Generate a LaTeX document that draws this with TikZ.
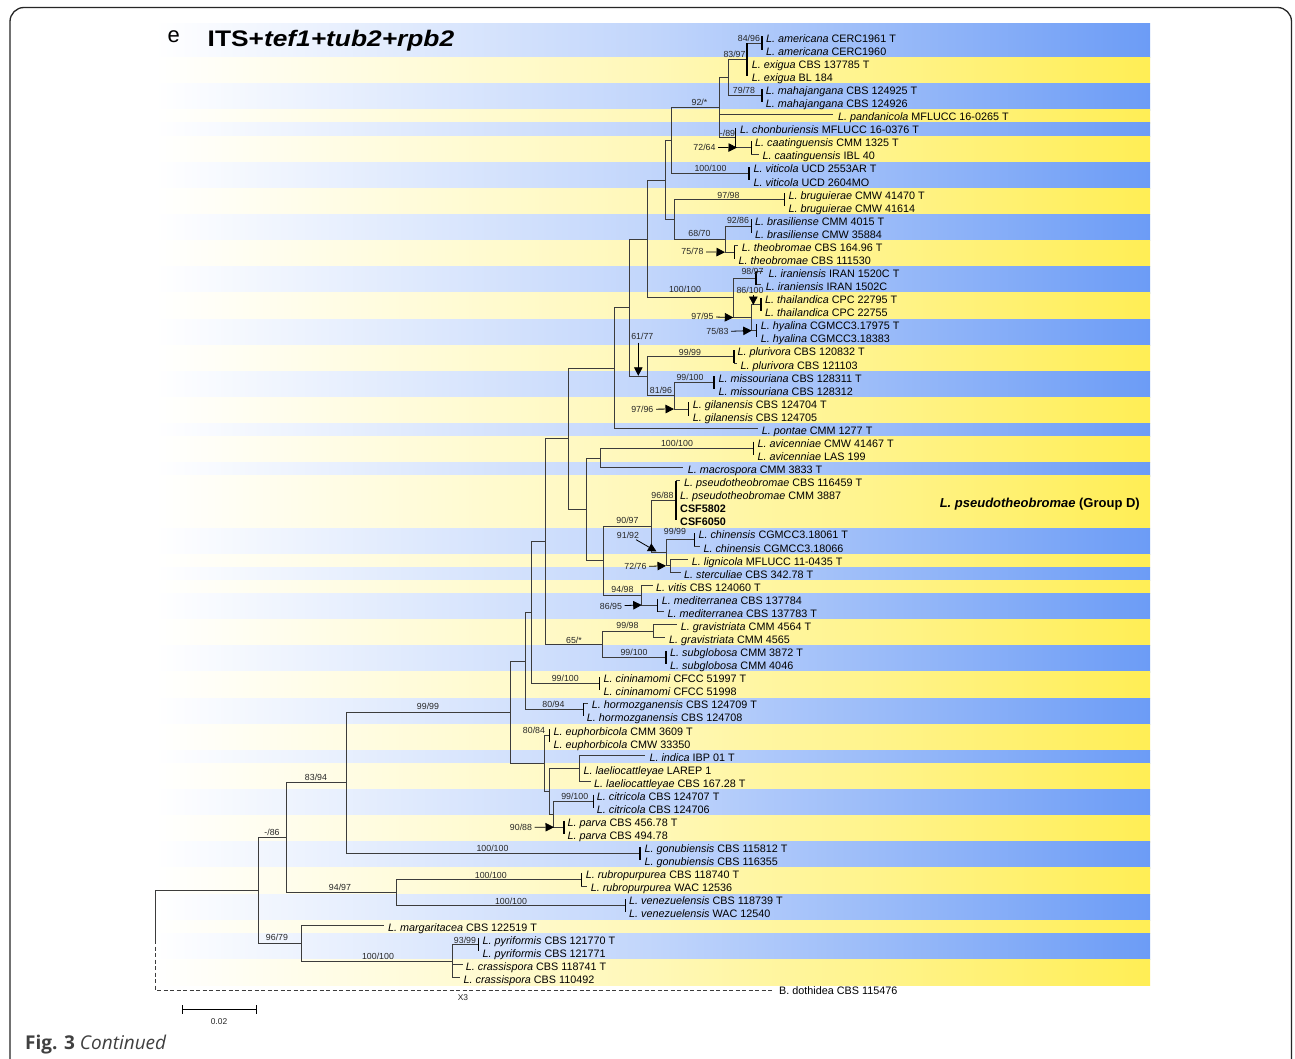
\documentclass[tikz,border=0pt]{standalone}
\usepackage{fontspec}
\setmainfont{Liberation Sans}
\newfontfamily\titlefont[FakeStretch=1.17]{Liberation Sans}
\newfontfamily\capfont{Open Sans}
\usetikzlibrary{arrows.meta}
\definecolor{stripeB}{RGB}{108,156,246}
\definecolor{stripeY}{RGB}{255,238,85}
\definecolor{treeln}{RGB}{60,60,60}
\definecolor{capgray}{RGB}{64,64,64}
\newcommand\slab[4]{\node[supl] (#1) at (#2,#3) {#4};}
\begin{document}
\begin{tikzpicture}[x=1pt,y=-1pt,
  br/.style={draw=treeln, line width=0.9pt},
  bar/.style={draw=black, line width=1.2pt},
  tiplab/.style={anchor=base west, inner sep=0pt, font=\fontsize{10.8}{12}\selectfont},
  supl/.style={inner sep=0pt, font=\fontsize{8.8}{9}\selectfont, text=black!85},
  arr/.style={draw=black, line width=0.8pt, -{Triangle[length=8.5pt,width=8.5pt]}, shorten <=2.5pt},
  bstr/.style={left color=white, right color=stripeB, middle color=stripeB!42!white},
  ystr/.style={left color=white, right color=stripeY, middle color=stripeY!42!white}]
\useasboundingbox (0,0) rectangle (1295,1059);
\fill[white] (0,0) rectangle (1295,1059);
% stripes
\foreach \a/\b/\c in {-0.571/2/bstr, 2/4/ystr, 4/6/bstr, 6/7/ystr, 7/8/bstr, 8/10/ystr, 10/12/bstr, 12/14/ystr, 14/16/bstr, 16/18/ystr, 18/20/bstr, 20/22/ystr, 22/24/bstr, 24/26/ystr, 26/28/bstr, 28/30/ystr, 30/31/bstr, 31/33/ystr, 33/34/bstr, 34/38/ystr, 38/40/bstr, 40/41/ystr, 41/42/bstr, 42/43/ystr, 43/45/bstr, 45/47/ystr, 47/49/bstr, 49/51/ystr, 51/53/bstr, 53/55/ystr, 55/56/bstr, 56/58/ystr, 58/60/bstr, 60/62/ystr, 62/64/bstr, 64/66/ystr, 66/68/bstr, 68/69/ystr, 69/71/bstr, 71/73/ystr}
  {\shade[\c] (155,{31.465+13.07*\a}) rectangle (1150,{31.465+13.07*\b+0.2});}
% frame
\draw[rounded corners=14, line width=1.3pt, color=black!85] (10,1085) -- (10,7.5) -- (1291.5,7.5) -- (1291.5,1085);
% titles
\node[anchor=base west, inner sep=0pt, font=\fontsize{22}{24}\selectfont] (elab) at (167.5,42.7) {e};
\node[anchor=base west, inner sep=0pt, font=\titlefont\fontsize{22.5}{24}\selectfont\bfseries] (title) at (207.5,46.7) {ITS+\textit{tef1+tub2+rpb2}};
\node[anchor=base east, inner sep=0pt, font=\fontsize{13}{14}\selectfont\bfseries] (grp) at (1140,507.5) {\textit{L. pseudotheobromae} (Group D)};
\node[anchor=base west, inner sep=0pt, font=\capfont\fontsize{19}{21}\selectfont, text=capgray] (cap) at (25,1049) {\textbf{Fig. 3} \textit{Continued}};
% internal nodes
\coordinate (nAme) at (762,43.03);
\coordinate (nAE) at (747,59.4);
\coordinate (nAEtop) at (747,43.03);
\coordinate (nMah) at (762,95.3);
\coordinate (nAEM) at (728,77.35);
\coordinate (nCaa) at (751.7,147.6);
\coordinate (nCC) at (735.7,137.8);
\coordinate (n92) at (719,107.6);
\coordinate (nVit) at (749,173.7);
\coordinate (n671) at (671.7,140.65);
\coordinate (nBru) at (784.3,199.9);
\coordinate (nBra) at (751.7,226.0);
\coordinate (nTheo) at (734.3,252.2);
\coordinate (n725) at (725,239.1);
\coordinate (n674) at (674,219.5);
\coordinate (n666) at (665.7,180.1);
\coordinate (nIra) at (756,278.3);
\coordinate (nTha) at (761,304.4);
\coordinate (nHya) at (756.7,330.6);
\coordinate (n97) at (751.7,317.5);
\coordinate (n733) at (733.3,297.9);
\coordinate (n647a) at (647.3,239.0);
\coordinate (nPlu) at (734,356.7);
\coordinate (nMis) at (714,382.9);
\coordinate (nGil) at (688.3,409.0);
\coordinate (n81) at (674,395.9);
\coordinate (n647b) at (647.3,376.3);
\coordinate (n629) at (629.3,307.65);
\coordinate (n614) at (614.3,368.1);
\coordinate (nAvi) at (753.3,448.2);
\coordinate (n600) at (600.7,458.0);
\coordinate (nPse) at (676,500.5);
\coordinate (nChi) at (694.3,539.7);
\coordinate (nLS) at (670,565.8);
\coordinate (n666b) at (666,552.8);
\coordinate (n651) at (651.7,526.6);
\coordinate (nMed) at (657.3,605.0);
\coordinate (n641) at (641.7,595.2);
\coordinate (n603) at (603.3,560.9);
\coordinate (n586) at (586.7,509.45);
\coordinate (n568) at (568.3,438.8);
\coordinate (nGra) at (653.3,631.2);
\coordinate (nSub) at (666,657.3);
\coordinate (n602) at (602.7,644.25);
\coordinate (n545) at (545,541.5);
\coordinate (nCin) at (599.3,683.5);
\coordinate (n531) at (531.7,612.5);
\coordinate (nHor) at (583.3,709.6);
\coordinate (n525) at (525,661.05);
\coordinate (nEup) at (549.3,735.7);
\coordinate (nIL) at (579.3,768.4);
\coordinate (nCit) at (593.3,801.1);
\coordinate (nPar) at (564,827.2);
\coordinate (n553) at (553.3,814.15);
\coordinate (n549) at (549.3,791.3);
\coordinate (n544) at (544,763.5);
\coordinate (n510) at (510.7,712.3);
\coordinate (nGon) at (640,853.4);
\coordinate (n346) at (346,782.85);
\coordinate (nRub) at (581.4,879.5);
\coordinate (nVen) at (625.6,905.7);
\coordinate (n396) at (396.2,892.6);
\coordinate (n286) at (286,837.7);
\coordinate (nPyr) at (478.3,944.9);
\coordinate (n452) at (452.2,961.2);
\coordinate (n301) at (301.5,943.2);
\coordinate (n258) at (258.6,890.45);
\coordinate (root) at (155,890.45);
\coordinate (rootd) at (155,940);
\coordinate (bcorner) at (155,990);
\coordinate (bdo) at (772,990);
% internal edges
\foreach \p/\c in {nAE/nAme, nAEM/nAE, nAEM/nMah, n92/nAEM, n92/nCC, nCC/nCaa, n671/n92, n671/nVit, n666/n671, n674/nBru, n674/n725, n725/nBra, n725/nTheo, n666/n674, n647a/n666, n733/nIra, n733/n97, n97/nTha, n97/nHya, n647a/n733, n629/n647a, n647b/nPlu, n647b/n81, n81/nMis, n81/nGil, n629/n647b, n614/n629, n568/n614, n600/nAvi, n586/n600, n651/nPse, n666b/nChi, n666b/nLS, n651/n666b, n603/n651, n641/nMed, n603/n641, n586/n603, n568/n586, n545/n568, n602/nGra, n602/nSub, n545/n602, n531/n545, n531/nCin, n525/n531, n525/nHor, n549/nIL, n553/nCit, n553/nPar, n549/n553, n544/nEup, n544/n549, n510/n525, n510/n544, n346/n510, n346/nGon, n396/nRub, n396/nVen, n286/n346, n286/n396, n452/nPyr, n301/n452, n258/n286, n258/n301, root/n258}
  {\draw[br] (\p) |- (\c);}
% tips
\foreach \i/\tx/\p/\lx/\sp/\cd in {
0/762/nAme/766/americana/CERC1961 T,
1/762/nAme/766/americana/CERC1960,
2/747/nAE/751.7/exigua/CBS 137785 T,
3/747/nAE/751.7/exigua/BL 184,
4/762/nMah/765.7/mahajangana/CBS 124925 T,
5/762/nMah/765.7/mahajangana/CBS 124926,
6/833/n92/838/pandanicola/MFLUCC 16-0265 T,
7/735.7/nCC/740/chonburiensis/MFLUCC 16-0376 T,
8/751.7/nCaa/755/caatinguensis/CMM 1325 T,
9/759/nCaa/762.3/caatinguensis/IBL 40,
10/749/nVit/753.3/viticola/UCD 2553AR T,
11/749/nVit/753.3/viticola/UCD 2604MO,
12/784.3/nBru/788.3/bruguierae/CMW 41470 T,
13/784.3/nBru/788.3/bruguierae/CMW 41614,
14/751.7/nBra/755/brasiliense/CMM 4015 T,
15/751.7/nBra/755/brasiliense/CMW 35884,
16/738/nTheo/741.7/theobromae/CBS 164.96 T,
17/734.3/nTheo/738.3/theobromae/CBS 111530,
18/763/nIra/768.3/iraniensis/IRAN 1520C T,
19/761/nIra/765.7/iraniensis/IRAN 1502C,
20/761/nTha/765/thailandica/CPC 22795 T,
21/761/nTha/765/thailandica/CPC 22755,
22/756.7/nHya/760.7/hyalina/CGMCC3.17975 T,
23/756.7/nHya/760.7/hyalina/CGMCC3.18383,
24/734/nPlu/737.3/plurivora/CBS 120832 T,
25/737/nPlu/740.5/plurivora/CBS 121103,
26/714/nMis/718.3/missouriana/CBS 128311 T,
27/714/nMis/718.3/missouriana/CBS 128312,
28/688.3/nGil/692.7/gilanensis/CBS 124704 T,
29/688.3/nGil/692.7/gilanensis/CBS 124705,
30/758.3/n614/761.7/pontae/CMM 1277 T,
31/753.3/nAvi/757.3/avicenniae/CMW 41467 T,
32/753.3/nAvi/757.3/avicenniae/LAS 199,
33/683.3/n600/687.7/macrospora/CMM 3833 T,
34/680/nPse/684/pseudotheobromae/CBS 116459 T,
35/676/nPse/680/pseudotheobromae/CMM 3887,
38/694.3/nChi/698.3/chinensis/CGMCC3.18061 T,
39/700/nChi/703.3/chinensis/CGMCC3.18066,
40/688.3/nLS/691.7/lignicola/MFLUCC 11-0435 T,
41/680.5/nLS/684/sterculiae/CBS 342.78 T,
42/652.5/n641/656/vitis/CBS 124060 T,
43/657.3/nMed/661.7/mediterranea/CBS 137784,
44/663.5/nMed/667.3/mediterranea/CBS 137783 T,
45/676.5/nGra/680.7/gravistriata/CMM 4564 T,
46/665/nGra/669/gravistriata/CMM 4565,
47/666/nSub/670/subglobosa/CMM 3872 T,
48/666/nSub/670/subglobosa/CMM 4046,
49/599.3/nCin/603.5/cininamomi/CFCC 51997 T,
50/599.3/nCin/603.5/cininamomi/CFCC 51998,
51/588/nHor/591.7/hormozganensis/CBS 124709 T,
52/583.3/nHor/586.7/hormozganensis/CBS 124708,
53/549.3/nEup/553.3/euphorbicola/CMM 3609 T,
54/549.3/nEup/553.3/euphorbicola/CMW 33350,
55/645/nIL/649.3/indica/IBP 01 T,
56/579.3/nIL/583.3/laeliocattleyae/LAREP 1,
57/590.5/nIL/594/laeliocattleyae/CBS 167.28 T,
58/593.3/nCit/596.7/citricola/CBS 124707 T,
59/593.3/nCit/596.7/citricola/CBS 124706,
60/564/nPar/567.3/parva/CBS 456.78 T,
61/564/nPar/567.3/parva/CBS 494.78,
62/640/nGon/644.5/gonubiensis/CBS 115812 T,
63/640/nGon/644.5/gonubiensis/CBS 116355,
64/581.4/nRub/585.6/rubropurpurea/CBS 118740 T,
65/587/nRub/590.6/rubropurpurea/WAC 12536,
66/625.6/nVen/629/venezuelensis/CBS 118739 T,
67/625.6/nVen/629/venezuelensis/WAC 12540,
68/383.6/n301/387.8/margaritacea/CBS 122519 T,
69/478.3/nPyr/482.5/pyriformis/CBS 121770 T,
70/478.3/nPyr/482.5/pyriformis/CBS 121771,
71/462.5/n452/465.7/crassispora/CBS 118741 T,
72/460/n452/463.5/crassispora/CBS 110492}
{
  \coordinate (tip\i) at (\tx,{36.5+13.07*\i});
  \draw[br] (\p) |- (tip\i);
  \node[tiplab] (lab\i) at (\lx,{42.3+13.07*\i}) {\textit{L. \sp} \cd};
}
\coordinate (tip36) at (676,{36.5+13.07*36});
\coordinate (tip37) at (676,{36.5+13.07*37});
\node[tiplab, font=\fontsize{10.8}{12}\selectfont\bfseries] (lab36) at (680,{42.3+13.07*36}) {CSF5802};
\node[tiplab, font=\fontsize{10.8}{12}\selectfont\bfseries] (lab37) at (680,{42.3+13.07*37}) {CSF6050};
% bars
\foreach \p/\a/\b in {nAme/0/1, nMah/4/5, nCaa/8/9, nVit/10/11, nBru/12/13, nBra/14/15, nTheo/16/17, nIra/18/19, nTha/20/21, nHya/22/23, nPlu/24/25, nMis/26/27, nGil/28/29, nAvi/31/32, nPse/34/37, nChi/38/39, nMed/43/44, nSub/47/48, nCin/49/50, nHor/51/52, nEup/53/54, nCit/58/59, nPar/60/61, nGon/62/63, nRub/64/65, nVen/66/67, nPyr/69/70}
  {\draw[bar] (\p |- tip\a) -- (\p |- tip\b);}
\draw[bar] (nAEtop) -- (nAE |- tip3);
\draw[bar] (tip7) -- (nCC |- nCaa);
% outgroup
\draw[br] (root) -- (rootd);
\draw[draw=treeln, line width=0.8pt, dash pattern=on 4pt off 2.5pt] (rootd) -- (bcorner) -- (bdo);
\node[tiplab] (labB) at (779,994.5) {B. dothidea CBS 115476};
\node[supl, font=\fontsize{8.4}{9}\selectfont] (x3) at (463,997.5) {X3};
% scale bar
\coordinate (sb1) at (182.4,1009.3);
\coordinate (sb2) at (256.5,1009.3);
\draw[draw=black, line width=1pt] (sb1) -- (sb2);
\draw[draw=black, line width=1pt] ([yshift=-4.5pt]sb1) -- ([yshift=4.5pt]sb1);
\draw[draw=black, line width=1pt] ([yshift=-4.5pt]sb2) -- ([yshift=4.5pt]sb2);
\node[supl, font=\fontsize{8.4}{9}\selectfont] (sbl) at (219,1021.5) {0.02};
% support values
\slab{s1}{748.9}{38.3}{84/96}
\slab{s2}{734.5}{54.3}{83/97}
\slab{s3}{744}{90}{79/78}
\slab{s4}{699.5}{102.7}{92/*}
\slab{s5}{727.5}{133}{-/89}
\slab{s6}{704.5}{147.3}{72/64}
\slab{s7}{710.5}{168.3}{100/100}
\slab{s8}{728.5}{195.7}{97/98}
\slab{s9}{738}{220}{92/86}
\slab{s10}{699.5}{233}{68/70}
\slab{s11}{692.5}{251.7}{75/78}
\slab{s12}{752.5}{271.7}{98/97}
\slab{s13}{685}{289.3}{100/100}
\slab{s14}{750}{290.7}{86/100}
\slab{s15}{702.5}{316.7}{97/95}
\slab{s16}{717.5}{331.7}{75/83}
\slab{s17}{642.3}{336.7}{61/77}
\slab{s18}{690}{352.3}{99/99}
\slab{s19}{690}{377.7}{99/100}
\slab{s20}{661}{390.7}{81/96}
\slab{s21}{642.3}{409.3}{97/96}
\slab{s22}{677}{443.3}{100/100}
\slab{s23}{662.5}{495}{96/88}
\slab{s24}{627.5}{520.7}{90/97}
\slab{s25}{675}{531.7}{99/99}
\slab{s26}{628}{535}{91/92}
\slab{s27}{635.5}{566.7}{72/76}
\slab{s28}{622.5}{589.5}{94/98}
\slab{s29}{611}{606}{86/95}
\slab{s30}{627.5}{625.7}{99/98}
\slab{s31}{574}{640}{65/*}
\slab{s32}{634}{652.3}{99/100}
\slab{s33}{565.3}{678.3}{99/100}
\slab{s34}{553.5}{704.3}{80/94}
\slab{s35}{428}{706.7}{99/99}
\slab{s36}{534}{730.7}{80/84}
\slab{s37}{574.7}{796}{99/100}
\slab{s38}{521}{827.3}{90/88}
\slab{s39}{492.5}{848.3}{100/100}
\slab{s40}{316}{777.3}{83/94}
\slab{s41}{272}{832.7}{-/86}
\slab{s42}{340}{887.7}{94/97}
\slab{s43}{490.8}{875}{100/100}
\slab{s44}{511}{901}{100/100}
\slab{s45}{277}{937.7}{96/79}
\slab{s46}{465}{940}{93/99}
\slab{s47}{378}{956.7}{100/100}
% arrows
\coordinate (a6) at (737,147.6);
\coordinate (a11) at (725,252.2);
\coordinate (a14) at (753.3,305);
\coordinate (a15) at (733.3,317.5);
\coordinate (a16) at (751.7,330.6);
\coordinate (a17) at (638.3,375.8);
\coordinate (a21) at (674,409.0);
\coordinate (a26) at (656.5,551.5);
\coordinate (a27) at (666,565.8);
\coordinate (a29) at (641.7,605.0);
\coordinate (a38) at (554,827.2);
\draw[arr] (s6) -- (a6);
\draw[arr] (s11) -- (a11);
\draw[arr, shorten <=1pt] (s14.south -| a14) -- (a14);
\draw[arr] (s15) -- (a15);
\draw[arr] (s16) -- (a16);
\draw[arr] (s17.south -| a17) -- (a17);
\draw[arr] (s21) -- (a21);
\draw[arr] (s26) -- (a26);
\draw[arr] (s27) -- (a27);
\draw[arr] (s29) -- (a29);
\draw[arr] (s38) -- (a38);
\end{tikzpicture}
\end{document}
